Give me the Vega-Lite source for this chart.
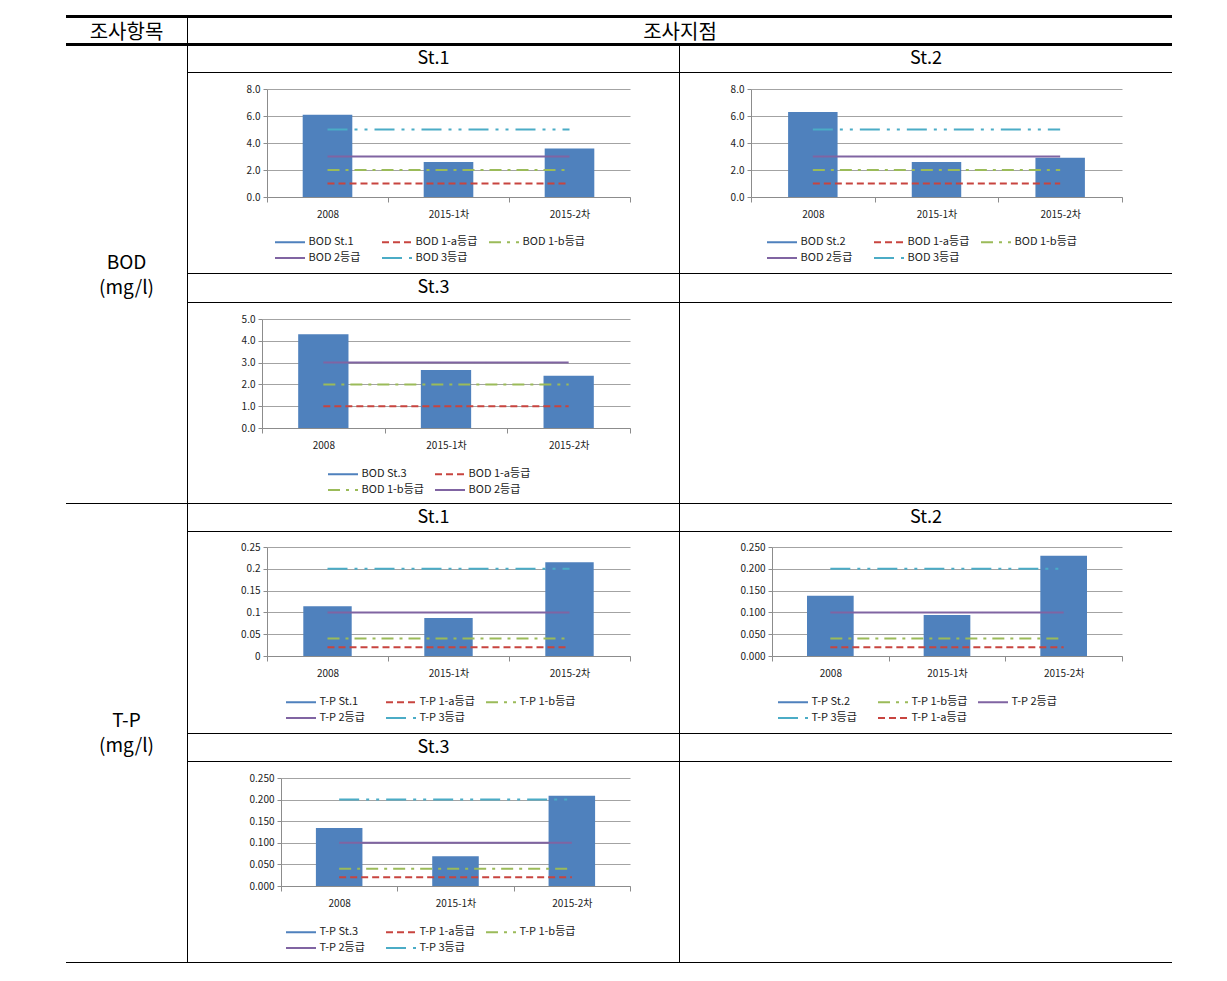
{
  "$schema": "https://vega.github.io/schema/vega-lite/v6.json",
  "padding": {"left": 66, "top": 15, "right": 0, "bottom": 0},
  "background": "white",
  "spacing": 0,
  "resolve": {"scale": {"color": "independent", "strokeDash": "independent"}, "legend": {"color": "independent", "strokeDash": "independent"}},
  "config": {
    "view": {"stroke": null},
    "font": "Noto Sans CJK KR",
    "axis": {"domainColor": "#8c8c8c", "tickColor": "#8c8c8c", "gridColor": "#8c8c8c", "gridWidth": 0.8, "labelFontSize": 10, "labelColor": "#222222", "labelFont": "Noto Sans CJK KR"},
    "legend": {"labelFont": "Noto Sans CJK KR", "symbolStrokeWidth": 2, "title": null, "orient": "none", "direction": "horizontal", "symbolType": "M-2,0H2", "symbolSize": 225, "gridAlign": "all", "columnPadding": 6, "rowPadding": 2, "labelFontSize": 11, "labelOffset": 10, "labelColor": "#222222"},
    "text": {"font": "Noto Sans CJK KR", "color": "#000000"}
  },
  "vconcat": [
    {"width": 1106, "height": 3, "data": {"values": []}, "mark": "text", "view": {"fill": "black"}},
    {"spacing": 0, "hconcat": [
      {"width": 121, "height": 25, "data": {"values": [{"t": "조사항목"}]}, "mark": {"type": "text", "fontSize": 20, "baseline": "middle", "dy": 2}, "encoding": {"text": {"field": "t"}}},
      {"width": 1, "height": 25, "data": {"values": []}, "mark": "text", "view": {"fill": "black"}},
      {"width": 984, "height": 25, "data": {"values": [{"t": "조사지점"}]}, "mark": {"type": "text", "fontSize": 20, "baseline": "middle", "dy": 2}, "encoding": {"text": {"field": "t"}}}
    ]},
    {"width": 1106, "height": 3, "data": {"values": []}, "mark": "text", "view": {"fill": "black"}},
    {"spacing": 0,
     "resolve": {"scale": {"color": "independent", "strokeDash": "independent"}, "legend": {"color": "independent", "strokeDash": "independent"}},
     "hconcat": [
      {"width": 121, "height": 457, "data": {"values": [{"t": "BOD\n(mg/l)"}]}, "mark": {"type": "text", "fontSize": 19, "baseline": "middle", "lineBreak": "\n", "lineHeight": 25, "dy": -12}, "encoding": {"text": {"field": "t"}}},
      {"width": 1, "height": 457, "data": {"values": []}, "mark": "text", "view": {"fill": "black"}},
      {"spacing": 0,
       "resolve": {"scale": {"color": "independent", "strokeDash": "independent"}, "legend": {"color": "independent", "strokeDash": "independent"}},
       "vconcat": [
        {"spacing": 0, "hconcat": [
          {"width": 491, "height": 26, "data": {"values": [{"t": "St.1"}]}, "mark": {"type": "text", "fontSize": 18, "baseline": "middle"}, "encoding": {"text": {"field": "t"}}},
          {"width": 1, "height": 26, "data": {"values": []}, "mark": "text", "view": {"fill": "black"}},
          {"width": 492, "height": 26, "data": {"values": [{"t": "St.2"}]}, "mark": {"type": "text", "fontSize": 18, "baseline": "middle"}, "encoding": {"text": {"field": "t"}}}
        ]},
        {"width": 984, "height": 1, "data": {"values": []}, "mark": "text", "view": {"fill": "black"}},
        {"spacing": 0,
         "resolve": {"scale": {"color": "independent", "strokeDash": "independent"}, "legend": {"color": "independent", "strokeDash": "independent"}},
         "hconcat": [
          {"width": 491, "height": 200,
           "data": {"values": [
             {"cat": "2008", "series": "BOD St.1", "type": "bar", "value": 6.1},
             {"cat": "2015-1차", "series": "BOD St.1", "type": "bar", "value": 2.6},
             {"cat": "2015-2차", "series": "BOD St.1", "type": "bar", "value": 3.6},
             {"cat": "2008", "series": "BOD 1-a등급", "type": "line", "value": 1},
             {"cat": "2015-1차", "series": "BOD 1-a등급", "type": "line", "value": 1},
             {"cat": "2015-2차", "series": "BOD 1-a등급", "type": "line", "value": 1},
             {"cat": "2008", "series": "BOD 1-b등급", "type": "line", "value": 2},
             {"cat": "2015-1차", "series": "BOD 1-b등급", "type": "line", "value": 2},
             {"cat": "2015-2차", "series": "BOD 1-b등급", "type": "line", "value": 2},
             {"cat": "2008", "series": "BOD 2등급", "type": "line", "value": 3},
             {"cat": "2015-1차", "series": "BOD 2등급", "type": "line", "value": 3},
             {"cat": "2015-2차", "series": "BOD 2등급", "type": "line", "value": 3},
             {"cat": "2008", "series": "BOD 3등급", "type": "line", "value": 5},
             {"cat": "2015-1차", "series": "BOD 3등급", "type": "line", "value": 5},
             {"cat": "2015-2차", "series": "BOD 3등급", "type": "line", "value": 5}
           ]},
           "layer": [
             {"transform": [{"filter": "datum.type === 'bar'"}],
              "mark": {"type": "bar", "width": {"band": 0.41}},
              "encoding": {
                "x": {"field": "cat", "type": "nominal", "scale": {"type": "band", "domain": ["2008", "2015-1차", "2015-2차"], "range": [79, 442], "paddingInner": 0, "paddingOuter": 0}, "axis": {"title": null, "offset": -76, "tickBand": "extent", "labelAngle": 0, "grid": false, "tickSize": 5, "labelPadding": 7}},
                "y": {"field": "value", "type": "quantitative", "scale": {"domain": [0, 8], "range": [124, 16], "nice": false}, "axis": {"title": null, "offset": -79, "values": [0, 2, 4, 6, 8], "format": ".1f", "grid": true, "tickSize": 4, "labelPadding": 3}},
                "color": {"field": "series", "type": "nominal", "scale": {"domain": ["BOD St.1", "BOD 1-a등급", "BOD 1-b등급", "BOD 2등급", "BOD 3등급"], "range": ["#4F81BD", "#C8443F", "#9BBB59", "#8064A2", "#4BACC6"]},
                  "legend": {"legendX": 93.5, "legendY": 160.5, "columns": 3}}
              }},
             {"transform": [{"filter": "datum.type === 'line'"}],
              "mark": {"type": "line", "strokeWidth": 2},
              "encoding": {
                "x": {"field": "cat", "type": "nominal", "bandPosition": 0.5, "scale": {"type": "band", "domain": ["2008", "2015-1차", "2015-2차"], "range": [79, 442], "paddingInner": 0, "paddingOuter": 0}, "axis": {"title": null, "offset": -76, "tickBand": "extent", "labelAngle": 0, "grid": false, "tickSize": 5, "labelPadding": 7}},
                "y": {"field": "value", "type": "quantitative", "scale": {"domain": [0, 8], "range": [124, 16], "nice": false}, "axis": {"title": null, "offset": -79, "values": [0, 2, 4, 6, 8], "format": ".1f", "grid": true, "tickSize": 4, "labelPadding": 3}},
                "color": {"field": "series", "type": "nominal", "scale": {"domain": ["BOD St.1", "BOD 1-a등급", "BOD 1-b등급", "BOD 2등급", "BOD 3등급"], "range": ["#4F81BD", "#C8443F", "#9BBB59", "#8064A2", "#4BACC6"]}},
                "strokeDash": {"field": "series", "type": "nominal", "scale": {"domain": ["BOD St.1", "BOD 1-a등급", "BOD 1-b등급", "BOD 2등급", "BOD 3등급"], "range": [[1, 0], [7, 4], [12, 6, 3, 6], [1, 0], [20, 7, 3, 7, 3, 7]]}, "legend": null}
              }}
           ]},
          {"width": 1, "height": 200, "data": {"values": []}, "mark": "text", "view": {"fill": "black"}},
          {"width": 492, "height": 200,
           "data": {"values": [
             {"cat": "2008", "series": "BOD St.2", "type": "bar", "value": 6.3},
             {"cat": "2015-1차", "series": "BOD St.2", "type": "bar", "value": 2.6},
             {"cat": "2015-2차", "series": "BOD St.2", "type": "bar", "value": 2.9},
             {"cat": "2008", "series": "BOD 1-a등급", "type": "line", "value": 1},
             {"cat": "2015-1차", "series": "BOD 1-a등급", "type": "line", "value": 1},
             {"cat": "2015-2차", "series": "BOD 1-a등급", "type": "line", "value": 1},
             {"cat": "2008", "series": "BOD 1-b등급", "type": "line", "value": 2},
             {"cat": "2015-1차", "series": "BOD 1-b등급", "type": "line", "value": 2},
             {"cat": "2015-2차", "series": "BOD 1-b등급", "type": "line", "value": 2},
             {"cat": "2008", "series": "BOD 2등급", "type": "line", "value": 3},
             {"cat": "2015-1차", "series": "BOD 2등급", "type": "line", "value": 3},
             {"cat": "2015-2차", "series": "BOD 2등급", "type": "line", "value": 3},
             {"cat": "2008", "series": "BOD 3등급", "type": "line", "value": 5},
             {"cat": "2015-1차", "series": "BOD 3등급", "type": "line", "value": 5},
             {"cat": "2015-2차", "series": "BOD 3등급", "type": "line", "value": 5}
           ]},
           "layer": [
             {"transform": [{"filter": "datum.type === 'bar'"}],
              "mark": {"type": "bar", "width": {"band": 0.4}},
              "encoding": {
                "x": {"field": "cat", "type": "nominal", "scale": {"type": "band", "domain": ["2008", "2015-1차", "2015-2차"], "range": [71, 442], "paddingInner": 0, "paddingOuter": 0}, "axis": {"title": null, "offset": -76, "tickBand": "extent", "labelAngle": 0, "grid": false, "tickSize": 5, "labelPadding": 7}},
                "y": {"field": "value", "type": "quantitative", "scale": {"domain": [0, 8], "range": [124, 16], "nice": false}, "axis": {"title": null, "offset": -71, "values": [0, 2, 4, 6, 8], "format": ".1f", "grid": true, "tickSize": 4, "labelPadding": 3}},
                "color": {"field": "series", "type": "nominal", "scale": {"domain": ["BOD St.2", "BOD 1-a등급", "BOD 1-b등급", "BOD 2등급", "BOD 3등급"], "range": ["#4F81BD", "#C8443F", "#9BBB59", "#8064A2", "#4BACC6"]},
                  "legend": {"legendX": 93.5, "legendY": 160.5, "columns": 3}}
              }},
             {"transform": [{"filter": "datum.type === 'line'"}],
              "mark": {"type": "line", "strokeWidth": 2},
              "encoding": {
                "x": {"field": "cat", "type": "nominal", "bandPosition": 0.5, "scale": {"type": "band", "domain": ["2008", "2015-1차", "2015-2차"], "range": [71, 442], "paddingInner": 0, "paddingOuter": 0}, "axis": {"title": null, "offset": -76, "tickBand": "extent", "labelAngle": 0, "grid": false, "tickSize": 5, "labelPadding": 7}},
                "y": {"field": "value", "type": "quantitative", "scale": {"domain": [0, 8], "range": [124, 16], "nice": false}, "axis": {"title": null, "offset": -71, "values": [0, 2, 4, 6, 8], "format": ".1f", "grid": true, "tickSize": 4, "labelPadding": 3}},
                "color": {"field": "series", "type": "nominal", "scale": {"domain": ["BOD St.2", "BOD 1-a등급", "BOD 1-b등급", "BOD 2등급", "BOD 3등급"], "range": ["#4F81BD", "#C8443F", "#9BBB59", "#8064A2", "#4BACC6"]}},
                "strokeDash": {"field": "series", "type": "nominal", "scale": {"domain": ["BOD St.2", "BOD 1-a등급", "BOD 1-b등급", "BOD 2등급", "BOD 3등급"], "range": [[1, 0], [7, 4], [12, 6, 3, 6], [1, 0], [20, 7, 3, 7, 3, 7]]}, "legend": null}
              }}
           ]}
        ]},
        {"width": 984, "height": 1, "data": {"values": []}, "mark": "text", "view": {"fill": "black"}},
        {"spacing": 0, "hconcat": [
          {"width": 491, "height": 28, "data": {"values": [{"t": "St.3"}]}, "mark": {"type": "text", "fontSize": 18, "baseline": "middle"}, "encoding": {"text": {"field": "t"}}},
          {"width": 1, "height": 28, "data": {"values": []}, "mark": "text", "view": {"fill": "black"}},
          {"width": 492, "height": 28, "data": {"values": []}, "mark": "text"}
        ]},
        {"width": 984, "height": 1, "data": {"values": []}, "mark": "text", "view": {"fill": "black"}},
        {"spacing": 0,
         "resolve": {"scale": {"color": "independent", "strokeDash": "independent"}, "legend": {"color": "independent", "strokeDash": "independent"}},
         "hconcat": [
          {"width": 491, "height": 200,
           "data": {"values": [
             {"cat": "2008", "series": "BOD St.3", "type": "bar", "value": 4.3},
             {"cat": "2015-1차", "series": "BOD St.3", "type": "bar", "value": 2.66},
             {"cat": "2015-2차", "series": "BOD St.3", "type": "bar", "value": 2.4},
             {"cat": "2008", "series": "BOD 1-a등급", "type": "line", "value": 1},
             {"cat": "2015-1차", "series": "BOD 1-a등급", "type": "line", "value": 1},
             {"cat": "2015-2차", "series": "BOD 1-a등급", "type": "line", "value": 1},
             {"cat": "2008", "series": "BOD 1-b등급", "type": "line", "value": 2},
             {"cat": "2015-1차", "series": "BOD 1-b등급", "type": "line", "value": 2},
             {"cat": "2015-2차", "series": "BOD 1-b등급", "type": "line", "value": 2},
             {"cat": "2008", "series": "BOD 2등급", "type": "line", "value": 3},
             {"cat": "2015-1차", "series": "BOD 2등급", "type": "line", "value": 3},
             {"cat": "2015-2차", "series": "BOD 2등급", "type": "line", "value": 3}
           ]},
           "layer": [
             {"transform": [{"filter": "datum.type === 'bar'"}],
              "mark": {"type": "bar", "width": {"band": 0.41}},
              "encoding": {
                "x": {"field": "cat", "type": "nominal", "scale": {"type": "band", "domain": ["2008", "2015-1차", "2015-2차"], "range": [74, 442], "paddingInner": 0, "paddingOuter": 0}, "axis": {"title": null, "offset": -75, "tickBand": "extent", "labelAngle": 0, "grid": false, "tickSize": 5, "labelPadding": 7}},
                "y": {"field": "value", "type": "quantitative", "scale": {"domain": [0, 5], "range": [125, 16], "nice": false}, "axis": {"title": null, "offset": -74, "values": [0, 1, 2, 3, 4, 5], "format": ".1f", "grid": true, "tickSize": 4, "labelPadding": 3}},
                "color": {"field": "series", "type": "nominal", "scale": {"domain": ["BOD St.3", "BOD 1-a등급", "BOD 1-b등급", "BOD 2등급"], "range": ["#4F81BD", "#C8443F", "#9BBB59", "#8064A2"]},
                  "legend": {"legendX": 146.5, "legendY": 162.5, "columns": 2}}
              }},
             {"transform": [{"filter": "datum.type === 'line'"}],
              "mark": {"type": "line", "strokeWidth": 2},
              "encoding": {
                "x": {"field": "cat", "type": "nominal", "bandPosition": 0.5, "scale": {"type": "band", "domain": ["2008", "2015-1차", "2015-2차"], "range": [74, 442], "paddingInner": 0, "paddingOuter": 0}, "axis": {"title": null, "offset": -75, "tickBand": "extent", "labelAngle": 0, "grid": false, "tickSize": 5, "labelPadding": 7}},
                "y": {"field": "value", "type": "quantitative", "scale": {"domain": [0, 5], "range": [125, 16], "nice": false}, "axis": {"title": null, "offset": -74, "values": [0, 1, 2, 3, 4, 5], "format": ".1f", "grid": true, "tickSize": 4, "labelPadding": 3}},
                "color": {"field": "series", "type": "nominal", "scale": {"domain": ["BOD St.3", "BOD 1-a등급", "BOD 1-b등급", "BOD 2등급"], "range": ["#4F81BD", "#C8443F", "#9BBB59", "#8064A2"]}},
                "strokeDash": {"field": "series", "type": "nominal", "scale": {"domain": ["BOD St.3", "BOD 1-a등급", "BOD 1-b등급", "BOD 2등급"], "range": [[1, 0], [7, 4], [12, 6, 3, 6], [1, 0]]}, "legend": null}
              }}
           ]},
          {"width": 1, "height": 200, "data": {"values": []}, "mark": "text", "view": {"fill": "black"}},
          {"width": 492, "height": 200, "data": {"values": []}, "mark": "text"}
        ]}
      ]}
    ]},
    {"width": 1106, "height": 1, "data": {"values": []}, "mark": "text", "view": {"fill": "black"}},
    {"spacing": 0,
     "resolve": {"scale": {"color": "independent", "strokeDash": "independent"}, "legend": {"color": "independent", "strokeDash": "independent"}},
     "hconcat": [
      {"width": 121, "height": 458, "data": {"values": [{"t": "T-P\n(mg/l)"}]}, "mark": {"type": "text", "fontSize": 19, "baseline": "middle", "lineBreak": "\n", "lineHeight": 25, "dy": -12}, "encoding": {"text": {"field": "t"}}},
      {"width": 1, "height": 458, "data": {"values": []}, "mark": "text", "view": {"fill": "black"}},
      {"spacing": 0,
       "resolve": {"scale": {"color": "independent", "strokeDash": "independent"}, "legend": {"color": "independent", "strokeDash": "independent"}},
       "vconcat": [
        {"spacing": 0, "hconcat": [
          {"width": 491, "height": 27, "data": {"values": [{"t": "St.1"}]}, "mark": {"type": "text", "fontSize": 18, "baseline": "middle"}, "encoding": {"text": {"field": "t"}}},
          {"width": 1, "height": 27, "data": {"values": []}, "mark": "text", "view": {"fill": "black"}},
          {"width": 492, "height": 27, "data": {"values": [{"t": "St.2"}]}, "mark": {"type": "text", "fontSize": 18, "baseline": "middle"}, "encoding": {"text": {"field": "t"}}}
        ]},
        {"width": 984, "height": 1, "data": {"values": []}, "mark": "text", "view": {"fill": "black"}},
        {"spacing": 0,
         "resolve": {"scale": {"color": "independent", "strokeDash": "independent"}, "legend": {"color": "independent", "strokeDash": "independent"}},
         "hconcat": [
          {"width": 491, "height": 201,
           "data": {"values": [
             {"cat": "2008", "series": "T-P St.1", "type": "bar", "value": 0.114},
             {"cat": "2015-1차", "series": "T-P St.1", "type": "bar", "value": 0.087},
             {"cat": "2015-2차", "series": "T-P St.1", "type": "bar", "value": 0.215},
             {"cat": "2008", "series": "T-P 1-a등급", "type": "line", "value": 0.02},
             {"cat": "2015-1차", "series": "T-P 1-a등급", "type": "line", "value": 0.02},
             {"cat": "2015-2차", "series": "T-P 1-a등급", "type": "line", "value": 0.02},
             {"cat": "2008", "series": "T-P 1-b등급", "type": "line", "value": 0.04},
             {"cat": "2015-1차", "series": "T-P 1-b등급", "type": "line", "value": 0.04},
             {"cat": "2015-2차", "series": "T-P 1-b등급", "type": "line", "value": 0.04},
             {"cat": "2008", "series": "T-P 2등급", "type": "line", "value": 0.1},
             {"cat": "2015-1차", "series": "T-P 2등급", "type": "line", "value": 0.1},
             {"cat": "2015-2차", "series": "T-P 2등급", "type": "line", "value": 0.1},
             {"cat": "2008", "series": "T-P 3등급", "type": "line", "value": 0.2},
             {"cat": "2015-1차", "series": "T-P 3등급", "type": "line", "value": 0.2},
             {"cat": "2015-2차", "series": "T-P 3등급", "type": "line", "value": 0.2}
           ]},
           "layer": [
             {"transform": [{"filter": "datum.type === 'bar'"}],
              "mark": {"type": "bar", "width": {"band": 0.4}},
              "encoding": {
                "x": {"field": "cat", "type": "nominal", "scale": {"type": "band", "domain": ["2008", "2015-1차", "2015-2차"], "range": [79, 442], "paddingInner": 0, "paddingOuter": 0}, "axis": {"title": null, "offset": -77, "tickBand": "extent", "labelAngle": 0, "grid": false, "tickSize": 5, "labelPadding": 7}},
                "y": {"field": "value", "type": "quantitative", "scale": {"domain": [0, 0.25], "range": [124, 15], "nice": false}, "axis": {"title": null, "offset": -79, "values": [0, 0.05, 0.1, 0.15, 0.2, 0.25], "format": "~g", "grid": true, "tickSize": 4, "labelPadding": 3}},
                "color": {"field": "series", "type": "nominal", "scale": {"domain": ["T-P St.1", "T-P 1-a등급", "T-P 1-b등급", "T-P 2등급", "T-P 3등급"], "range": ["#4F81BD", "#C8443F", "#9BBB59", "#8064A2", "#4BACC6"]},
                  "legend": {"legendX": 104.5, "legendY": 161.5, "columns": 3}}
              }},
             {"transform": [{"filter": "datum.type === 'line'"}],
              "mark": {"type": "line", "strokeWidth": 2},
              "encoding": {
                "x": {"field": "cat", "type": "nominal", "bandPosition": 0.5, "scale": {"type": "band", "domain": ["2008", "2015-1차", "2015-2차"], "range": [79, 442], "paddingInner": 0, "paddingOuter": 0}, "axis": {"title": null, "offset": -77, "tickBand": "extent", "labelAngle": 0, "grid": false, "tickSize": 5, "labelPadding": 7}},
                "y": {"field": "value", "type": "quantitative", "scale": {"domain": [0, 0.25], "range": [124, 15], "nice": false}, "axis": {"title": null, "offset": -79, "values": [0, 0.05, 0.1, 0.15, 0.2, 0.25], "format": "~g", "grid": true, "tickSize": 4, "labelPadding": 3}},
                "color": {"field": "series", "type": "nominal", "scale": {"domain": ["T-P St.1", "T-P 1-a등급", "T-P 1-b등급", "T-P 2등급", "T-P 3등급"], "range": ["#4F81BD", "#C8443F", "#9BBB59", "#8064A2", "#4BACC6"]}},
                "strokeDash": {"field": "series", "type": "nominal", "scale": {"domain": ["T-P St.1", "T-P 1-a등급", "T-P 1-b등급", "T-P 2등급", "T-P 3등급"], "range": [[1, 0], [7, 4], [12, 6, 3, 6], [1, 0], [20, 7, 3, 7, 3, 7]]}, "legend": null}
              }}
           ]},
          {"width": 1, "height": 201, "data": {"values": []}, "mark": "text", "view": {"fill": "black"}},
          {"width": 492, "height": 201,
           "data": {"values": [
             {"cat": "2008", "series": "T-P St.2", "type": "bar", "value": 0.138},
             {"cat": "2015-1차", "series": "T-P St.2", "type": "bar", "value": 0.094},
             {"cat": "2015-2차", "series": "T-P St.2", "type": "bar", "value": 0.23},
             {"cat": "2008", "series": "T-P 1-b등급", "type": "line", "value": 0.04},
             {"cat": "2015-1차", "series": "T-P 1-b등급", "type": "line", "value": 0.04},
             {"cat": "2015-2차", "series": "T-P 1-b등급", "type": "line", "value": 0.04},
             {"cat": "2008", "series": "T-P 2등급", "type": "line", "value": 0.1},
             {"cat": "2015-1차", "series": "T-P 2등급", "type": "line", "value": 0.1},
             {"cat": "2015-2차", "series": "T-P 2등급", "type": "line", "value": 0.1},
             {"cat": "2008", "series": "T-P 3등급", "type": "line", "value": 0.2},
             {"cat": "2015-1차", "series": "T-P 3등급", "type": "line", "value": 0.2},
             {"cat": "2015-2차", "series": "T-P 3등급", "type": "line", "value": 0.2},
             {"cat": "2008", "series": "T-P 1-a등급", "type": "line", "value": 0.02},
             {"cat": "2015-1차", "series": "T-P 1-a등급", "type": "line", "value": 0.02},
             {"cat": "2015-2차", "series": "T-P 1-a등급", "type": "line", "value": 0.02}
           ]},
           "layer": [
             {"transform": [{"filter": "datum.type === 'bar'"}],
              "mark": {"type": "bar", "width": {"band": 0.4}},
              "encoding": {
                "x": {"field": "cat", "type": "nominal", "scale": {"type": "band", "domain": ["2008", "2015-1차", "2015-2차"], "range": [92, 442], "paddingInner": 0, "paddingOuter": 0}, "axis": {"title": null, "offset": -77, "tickBand": "extent", "labelAngle": 0, "grid": false, "tickSize": 5, "labelPadding": 7}},
                "y": {"field": "value", "type": "quantitative", "scale": {"domain": [0, 0.25], "range": [124, 15], "nice": false}, "axis": {"title": null, "offset": -92, "values": [0, 0.05, 0.1, 0.15, 0.2, 0.25], "format": ".3f", "grid": true, "tickSize": 4, "labelPadding": 3}},
                "color": {"field": "series", "type": "nominal", "scale": {"domain": ["T-P St.2", "T-P 1-b등급", "T-P 2등급", "T-P 3등급", "T-P 1-a등급"], "range": ["#4F81BD", "#9BBB59", "#8064A2", "#4BACC6", "#C8443F"]},
                  "legend": {"legendX": 104.5, "legendY": 161.5, "columns": 3}}
              }},
             {"transform": [{"filter": "datum.type === 'line'"}],
              "mark": {"type": "line", "strokeWidth": 2},
              "encoding": {
                "x": {"field": "cat", "type": "nominal", "bandPosition": 0.5, "scale": {"type": "band", "domain": ["2008", "2015-1차", "2015-2차"], "range": [92, 442], "paddingInner": 0, "paddingOuter": 0}, "axis": {"title": null, "offset": -77, "tickBand": "extent", "labelAngle": 0, "grid": false, "tickSize": 5, "labelPadding": 7}},
                "y": {"field": "value", "type": "quantitative", "scale": {"domain": [0, 0.25], "range": [124, 15], "nice": false}, "axis": {"title": null, "offset": -92, "values": [0, 0.05, 0.1, 0.15, 0.2, 0.25], "format": ".3f", "grid": true, "tickSize": 4, "labelPadding": 3}},
                "color": {"field": "series", "type": "nominal", "scale": {"domain": ["T-P St.2", "T-P 1-b등급", "T-P 2등급", "T-P 3등급", "T-P 1-a등급"], "range": ["#4F81BD", "#9BBB59", "#8064A2", "#4BACC6", "#C8443F"]}},
                "strokeDash": {"field": "series", "type": "nominal", "scale": {"domain": ["T-P St.2", "T-P 1-b등급", "T-P 2등급", "T-P 3등급", "T-P 1-a등급"], "range": [[1, 0], [12, 6, 3, 6], [1, 0], [20, 7, 3, 7, 3, 7], [7, 4]]}, "legend": null}
              }}
           ]}
        ]},
        {"width": 984, "height": 1, "data": {"values": []}, "mark": "text", "view": {"fill": "black"}},
        {"spacing": 0, "hconcat": [
          {"width": 491, "height": 27, "data": {"values": [{"t": "St.3"}]}, "mark": {"type": "text", "fontSize": 18, "baseline": "middle"}, "encoding": {"text": {"field": "t"}}},
          {"width": 1, "height": 27, "data": {"values": []}, "mark": "text", "view": {"fill": "black"}},
          {"width": 492, "height": 27, "data": {"values": []}, "mark": "text"}
        ]},
        {"width": 984, "height": 1, "data": {"values": []}, "mark": "text", "view": {"fill": "black"}},
        {"spacing": 0,
         "resolve": {"scale": {"color": "independent", "strokeDash": "independent"}, "legend": {"color": "independent", "strokeDash": "independent"}},
         "hconcat": [
          {"width": 491, "height": 200,
           "data": {"values": [
             {"cat": "2008", "series": "T-P St.3", "type": "bar", "value": 0.134},
             {"cat": "2015-1차", "series": "T-P St.3", "type": "bar", "value": 0.069},
             {"cat": "2015-2차", "series": "T-P St.3", "type": "bar", "value": 0.209},
             {"cat": "2008", "series": "T-P 1-a등급", "type": "line", "value": 0.02},
             {"cat": "2015-1차", "series": "T-P 1-a등급", "type": "line", "value": 0.02},
             {"cat": "2015-2차", "series": "T-P 1-a등급", "type": "line", "value": 0.02},
             {"cat": "2008", "series": "T-P 1-b등급", "type": "line", "value": 0.04},
             {"cat": "2015-1차", "series": "T-P 1-b등급", "type": "line", "value": 0.04},
             {"cat": "2015-2차", "series": "T-P 1-b등급", "type": "line", "value": 0.04},
             {"cat": "2008", "series": "T-P 2등급", "type": "line", "value": 0.1},
             {"cat": "2015-1차", "series": "T-P 2등급", "type": "line", "value": 0.1},
             {"cat": "2015-2차", "series": "T-P 2등급", "type": "line", "value": 0.1},
             {"cat": "2008", "series": "T-P 3등급", "type": "line", "value": 0.2},
             {"cat": "2015-1차", "series": "T-P 3등급", "type": "line", "value": 0.2},
             {"cat": "2015-2차", "series": "T-P 3등급", "type": "line", "value": 0.2}
           ]},
           "layer": [
             {"transform": [{"filter": "datum.type === 'bar'"}],
              "mark": {"type": "bar", "width": {"band": 0.4}},
              "encoding": {
                "x": {"field": "cat", "type": "nominal", "scale": {"type": "band", "domain": ["2008", "2015-1차", "2015-2차"], "range": [93, 442], "paddingInner": 0, "paddingOuter": 0}, "axis": {"title": null, "offset": -76, "tickBand": "extent", "labelAngle": 0, "grid": false, "tickSize": 5, "labelPadding": 7}},
                "y": {"field": "value", "type": "quantitative", "scale": {"domain": [0, 0.25], "range": [124, 16], "nice": false}, "axis": {"title": null, "offset": -93, "values": [0, 0.05, 0.1, 0.15, 0.2, 0.25], "format": ".3f", "grid": true, "tickSize": 4, "labelPadding": 3}},
                "color": {"field": "series", "type": "nominal", "scale": {"domain": ["T-P St.3", "T-P 1-a등급", "T-P 1-b등급", "T-P 2등급", "T-P 3등급"], "range": ["#4F81BD", "#C8443F", "#9BBB59", "#8064A2", "#4BACC6"]},
                  "legend": {"legendX": 104.5, "legendY": 161.5, "columns": 3}}
              }},
             {"transform": [{"filter": "datum.type === 'line'"}],
              "mark": {"type": "line", "strokeWidth": 2},
              "encoding": {
                "x": {"field": "cat", "type": "nominal", "bandPosition": 0.5, "scale": {"type": "band", "domain": ["2008", "2015-1차", "2015-2차"], "range": [93, 442], "paddingInner": 0, "paddingOuter": 0}, "axis": {"title": null, "offset": -76, "tickBand": "extent", "labelAngle": 0, "grid": false, "tickSize": 5, "labelPadding": 7}},
                "y": {"field": "value", "type": "quantitative", "scale": {"domain": [0, 0.25], "range": [124, 16], "nice": false}, "axis": {"title": null, "offset": -93, "values": [0, 0.05, 0.1, 0.15, 0.2, 0.25], "format": ".3f", "grid": true, "tickSize": 4, "labelPadding": 3}},
                "color": {"field": "series", "type": "nominal", "scale": {"domain": ["T-P St.3", "T-P 1-a등급", "T-P 1-b등급", "T-P 2등급", "T-P 3등급"], "range": ["#4F81BD", "#C8443F", "#9BBB59", "#8064A2", "#4BACC6"]}},
                "strokeDash": {"field": "series", "type": "nominal", "scale": {"domain": ["T-P St.3", "T-P 1-a등급", "T-P 1-b등급", "T-P 2등급", "T-P 3등급"], "range": [[1, 0], [7, 4], [12, 6, 3, 6], [1, 0], [20, 7, 3, 7, 3, 7]]}, "legend": null}
              }}
           ]},
          {"width": 1, "height": 200, "data": {"values": []}, "mark": "text", "view": {"fill": "black"}},
          {"width": 492, "height": 200, "data": {"values": []}, "mark": "text"}
        ]}
      ]}
    ]},
    {"width": 1106, "height": 1, "data": {"values": []}, "mark": "text", "view": {"fill": "black"}}
  ]
}
